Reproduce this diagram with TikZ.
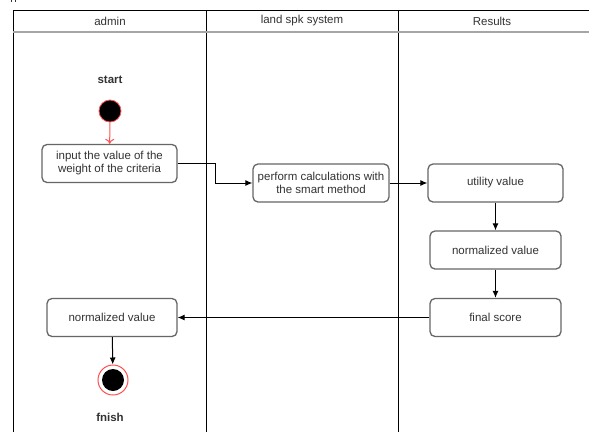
\documentclass[tikz,border=0pt]{standalone}
\usepackage{fontspec}
\setmainfont{Liberation Sans}
\usetikzlibrary{arrows.meta,calc}
\definecolor{boxline}{HTML}{666666}
\definecolor{txt}{HTML}{333333}
\definecolor{redline}{HTML}{FF5050}
\tikzset{
  x=1pt,y=-1pt,
  actbox/.style={draw=boxline,line width=1.3pt,rounded corners=5pt,fill=white,
    minimum width=#1,minimum height=38pt,inner sep=0pt,align=center,
    font=\fontsize{11.5}{13}\selectfont,text=txt},
  actbox/.default=135pt,
  lbl/.style={font=\fontsize{11.5}{13}\selectfont,text=txt},
  blbl/.style={font=\bfseries\fontsize{11.5}{13}\selectfont,text=txt},
  frame/.style={draw=black,line width=1pt},
  arr/.style={draw=black,line width=1pt,-{Latex[length=7pt,width=6pt]}},
  redarr/.style={draw=redline,line width=1pt,-{To[length=5pt,width=9pt]}},
}
\begin{document}
\begin{tikzpicture}
\useasboundingbox (0,0) rectangle (589,432);
\fill[white] (0,0) rectangle (589,432);
% tiny fragment at top-left
\fill[txt] (10.5,0) rectangle (12,2);
\fill[txt] (14.5,0) rectangle (16,2);
% swimlane frame
\draw[frame] (13,432) -- (13,10) -- (589,10);
\draw[frame] (206,10) -- (206,432);
\draw[frame] (398,10) -- (398,432);
\draw[draw=gray!70,line width=2pt] (13,32) -- (589,32);
\node[lbl] (h1) at (110,21) {admin};
\node[lbl] (h2) at (302,21) {land spk system};
\node[lbl] (h3) at (492,21) {Results};
% nodes
\node[blbl] (startl) at (110,80) {start};
\node[circle,fill=black,draw=redline,line width=0.8pt,minimum size=22pt,inner sep=0pt] (start) at (110,111) {};
\node[actbox] (input) at (109.5,163.5) {input the value of the\\weight of the criteria};
\node[actbox=136pt] (perform) at (321,183) {perform calculations with\\the smart method};
\node[actbox] (utility) at (495.5,183) {utility value};
\node[actbox=131pt] (norm) at (495.5,250) {normalized value};
\node[actbox=131pt] (final) at (495.5,317.5) {final score};
\node[actbox=130pt] (normL) at (112,317.5) {normalized value};
\node[circle,draw=redline,fill=white,line width=1pt,minimum size=30pt,inner sep=0pt] (endc) at (113,380) {};
\node[circle,fill=black,minimum size=22pt,inner sep=0pt] (endin) at (endc) {};
\node[blbl] (endl) at (110,417) {fnish};
% connectors
\coordinate (bend) at (215,0);
\draw[redarr] (start) -- (input);
\draw[arr] (input.east) -- (input.east -| bend) |- (perform.west);
\draw[arr] (perform) -- (utility);
\draw[arr] (utility) -- (norm);
\draw[arr] (norm) -- (final);
\draw[arr] (final) -- (normL);
\draw[arr] (normL) -- (endc);
\end{tikzpicture}
\end{document}
